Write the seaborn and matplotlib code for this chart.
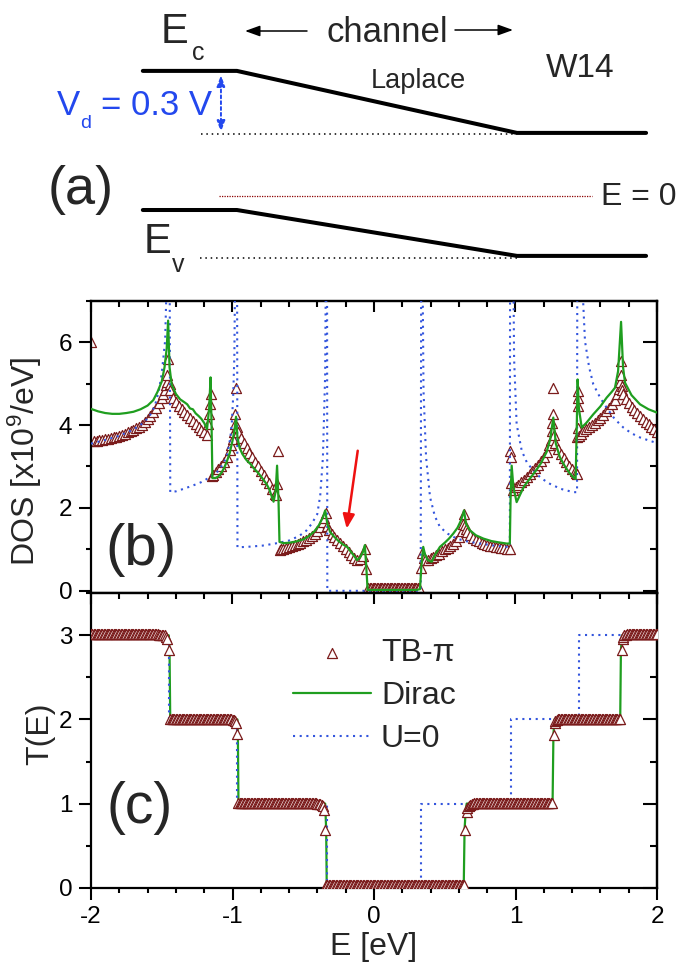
import numpy as np
import pandas as pd
import seaborn as sns
import matplotlib.pyplot as plt
from matplotlib.patches import FancyArrowPatch
from matplotlib.ticker import MultipleLocator

# ---------------- data ----------------

# (a) schematic band profile (x in channel lengths, energy in eV)
band_pos = [-0.336, 0.0, 1.0, 1.461]
ec_band = [0.605, 0.605, 0.305, 0.305]
ev_band = [-0.068, -0.068, -0.290, -0.290]

# (b) DOS, TB-pi markers
tb_dos_E = [
    -2.00, -1.98, -1.96, -1.94, -1.92, -1.90, -1.88, -1.86, -1.84, -1.82,
    -1.80, -1.78, -1.76, -1.74, -1.72, -1.70, -1.68, -1.66, -1.64, -1.62,
    -1.60, -1.58, -1.56, -1.54, -1.52, -1.50, -1.49, -1.48, -1.47, -1.465,
    -1.46, -1.455,
    -1.445, -1.44, -1.42, -1.40, -1.38, -1.36, -1.34, -1.32, -1.30, -1.28,
    -1.26, -1.24, -1.22, -1.20, -1.18, -1.17, -1.165, -1.16, -1.155,
    -1.145, -1.14, -1.12, -1.10, -1.08, -1.06, -1.04, -1.02, -1.01, -1.00,
    -0.99, -0.985, -0.98, -0.975, -0.97, -0.96, -0.94, -0.92, -0.90, -0.88,
    -0.86, -0.84, -0.82, -0.80, -0.78, -0.76, -0.74, -0.72, -0.70, -0.69,
    -0.685, -0.68,
    -0.665, -0.66, -0.64, -0.62, -0.60, -0.58, -0.56, -0.54, -0.52, -0.50,
    -0.48, -0.46, -0.44, -0.42, -0.40, -0.38, -0.36, -0.35, -0.34,
    -0.33, -0.32, -0.30, -0.28, -0.26, -0.24, -0.22, -0.20, -0.18, -0.16,
    -0.14, -0.12, -0.10, -0.08, -0.065, -0.06,
    -0.04, -0.03, -0.02, -0.01, 0.00, 0.01, 0.02, 0.03, 0.04, 0.05,
    0.06, 0.07, 0.08, 0.09, 0.10, 0.11, 0.12, 0.13, 0.14, 0.15,
    0.16, 0.17, 0.18, 0.19, 0.20, 0.21, 0.22, 0.23, 0.24, 0.25,
    0.26, 0.27, 0.28, 0.29, 0.30, 0.31, 0.32,
    0.335, 0.34, 0.35, 0.36, 0.38, 0.40, 0.42, 0.44, 0.46, 0.48,
    0.50, 0.52, 0.54, 0.56, 0.58, 0.60, 0.62, 0.63, 0.636,
    0.645, 0.65, 0.66, 0.68, 0.70, 0.72, 0.74, 0.76, 0.78, 0.80,
    0.82, 0.84, 0.86, 0.88, 0.90, 0.92, 0.94, 0.96, 0.962, 0.965, 0.97,
    0.98, 1.00, 1.02, 1.04, 1.06, 1.08, 1.10, 1.12, 1.14, 1.16,
    1.18, 1.20, 1.22, 1.24, 1.25, 1.255, 1.26, 1.263, 1.267,
    1.275, 1.28, 1.30, 1.32, 1.34, 1.36, 1.38, 1.40, 1.42, 1.43,
    1.435, 1.437, 1.439, 1.441, 1.443, 1.445,
    1.45, 1.46, 1.48, 1.50, 1.52, 1.54, 1.56, 1.58, 1.60, 1.62,
    1.64, 1.66, 1.68, 1.70, 1.72, 1.73, 1.74, 1.743, 1.746,
    1.75, 1.755, 1.76, 1.78, 1.80, 1.82, 1.84, 1.86, 1.88, 1.90,
    1.92, 1.94, 1.96, 1.98, 2.00,
]
tb_dos = [
    6.00, 3.61, 3.62, 3.63, 3.64, 3.66, 3.67, 3.69, 3.70, 3.72,
    3.74, 3.77, 3.79, 3.82, 3.85, 3.88, 3.92, 3.96, 4.01, 4.07,
    4.14, 4.22, 4.31, 4.41, 4.53, 4.66, 4.74, 4.84, 4.96, 5.05,
    5.20, 5.60,
    5.00, 4.85, 4.65, 4.55, 4.47, 4.39, 4.32, 4.25, 4.18, 4.10,
    4.03, 3.96, 3.89, 3.82, 3.76, 4.03, 4.27, 4.50, 4.74,
    2.78, 2.80, 2.86, 2.93, 3.01, 3.11, 3.24, 3.40, 3.52, 3.66,
    3.82, 4.03, 4.27, 4.90, 3.95, 3.82, 3.68, 3.56, 3.44, 3.33,
    3.22, 3.11, 3.00, 2.90, 2.80, 2.70, 2.59, 2.46, 2.33, 2.30,
    2.58, 3.38,
    0.98, 1.00, 1.02, 1.04, 1.06, 1.08, 1.10, 1.13, 1.16, 1.19,
    1.23, 1.27, 1.32, 1.38, 1.45, 1.54, 1.66, 1.76, 1.88,
    1.56, 1.46, 1.37, 1.29, 1.22, 1.15, 1.08, 1.01, 0.94, 0.87,
    0.80, 0.74, 0.76, 0.84, 1.00, 0.52,
    0.07, 0.07, 0.07, 0.07, 0.07, 0.07, 0.07, 0.07, 0.07, 0.07,
    0.07, 0.07, 0.07, 0.07, 0.07, 0.07, 0.07, 0.07, 0.07, 0.07,
    0.07, 0.07, 0.07, 0.07, 0.07, 0.07, 0.07, 0.07, 0.07, 0.07,
    0.07, 0.07, 0.07, 0.07, 0.07, 0.07, 0.07,
    0.55, 0.92, 0.80, 0.74, 0.74, 0.78, 0.82, 0.86, 0.90, 0.95,
    1.00, 1.04, 1.09, 1.14, 1.21, 1.30, 1.45, 1.62, 1.86,
    1.60, 1.50, 1.42, 1.34, 1.28, 1.23, 1.19, 1.16, 1.13, 1.11,
    1.09, 1.07, 1.06, 1.05, 1.04, 1.03, 1.02, 1.01, 3.38, 3.22, 2.60,
    2.44, 2.50, 2.56, 2.62, 2.68, 2.74, 2.81, 2.88, 2.96, 3.04,
    3.13, 3.24, 3.36, 3.52, 3.64, 3.86, 4.05, 4.27, 4.90,
    3.75, 3.56, 3.42, 3.30, 3.20, 3.11, 3.02, 2.95, 2.88, 2.84,
    2.82, 3.70, 3.94, 4.46, 4.66, 4.82,
    3.74, 3.78, 3.85, 3.90, 3.95, 4.00, 4.06, 4.12, 4.18, 4.25,
    4.33, 4.41, 4.50, 4.61, 4.76, 4.88, 5.05, 5.20, 5.55,
    4.95, 4.85, 4.76, 4.64, 4.53, 4.44, 4.36, 4.29, 4.22, 4.15,
    4.08, 4.02, 3.96, 3.90, 3.84,
]

# (b) DOS, Dirac model
dirac_dos_E = [
    -2.00, -1.95, -1.90, -1.85, -1.80, -1.75, -1.70, -1.65, -1.60, -1.56,
    -1.53, -1.50, -1.48, -1.465, -1.455, -1.445, -1.43, -1.40, -1.37, -1.34,
    -1.32, -1.30, -1.28, -1.26, -1.24, -1.22, -1.20, -1.18, -1.165, -1.155,
    -1.148, -1.142, -1.12, -1.10, -1.08, -1.06, -1.04, -1.02, -1.00, -0.985,
    -0.975, -0.965, -0.95, -0.93, -0.90, -0.87, -0.85, -0.82, -0.79, -0.76,
    -0.74, -0.72, -0.71, -0.695, -0.685, -0.675, -0.668, -0.64, -0.60, -0.55,
    -0.50, -0.46, -0.42, -0.39, -0.36, -0.345, -0.33, -0.31, -0.28, -0.25,
    -0.22, -0.19, -0.165, -0.14, -0.12, -0.10, -0.08, -0.065, -0.055, -0.045,
    0.00, 0.10, 0.20, 0.30, 0.325, 0.335, 0.348, 0.36, 0.38, 0.408,
    0.43, 0.466, 0.50, 0.53, 0.56, 0.59, 0.615, 0.636, 0.65, 0.678,
    0.72, 0.773, 0.83, 0.88, 0.938, 0.96, 0.965, 0.973, 0.985, 1.008,
    1.03, 1.06, 1.10, 1.14, 1.18, 1.22, 1.245, 1.267, 1.285, 1.314,
    1.35, 1.38, 1.408, 1.425, 1.432, 1.439, 1.448, 1.468, 1.50, 1.55,
    1.60, 1.644, 1.68, 1.703, 1.725, 1.746, 1.76, 1.774, 1.82, 1.88,
    1.94, 2.00,
]
dirac_dos = [
    4.39, 4.33, 4.29, 4.27, 4.27, 4.29, 4.32, 4.38, 4.47, 4.60,
    4.80, 5.05, 5.40, 5.85, 6.52, 5.40, 4.98, 4.75, 4.62, 4.55,
    4.50, 4.40, 4.38, 4.28, 4.22, 4.15, 4.05, 3.90, 4.40, 5.15,
    4.00, 2.72, 2.72, 2.76, 2.84, 2.96, 3.12, 3.32, 3.62, 3.90,
    4.20, 3.70, 3.45, 3.30, 3.15, 3.05, 2.96, 2.85, 2.72, 2.58,
    2.45, 2.25, 2.15, 2.40, 3.02, 2.20, 1.18, 1.15, 1.16, 1.19,
    1.24, 1.32, 1.44, 1.58, 1.78, 1.94, 1.62, 1.42, 1.30, 1.20,
    1.12, 1.06, 0.95, 0.84, 0.74, 0.80, 0.92, 1.10, 0.60, 0.02,
    0.02, 0.02, 0.02, 0.02, 0.04, 0.60, 1.06, 0.88, 0.74, 0.70,
    0.86, 1.06, 1.16, 1.26, 1.38, 1.52, 1.70, 1.94, 1.62, 1.46,
    1.34, 1.26, 1.20, 1.17, 1.14, 1.14, 2.20, 3.02, 2.50, 2.14,
    2.30, 2.52, 2.70, 2.88, 3.08, 3.35, 3.65, 4.18, 3.55, 3.22,
    3.00, 2.85, 2.74, 2.70, 3.80, 5.10, 4.40, 3.94, 4.05, 4.26,
    4.45, 4.66, 4.80, 4.90, 5.30, 6.49, 5.40, 5.02, 4.72, 4.50,
    4.38, 4.30,
]

# (b) DOS, U=0 (values of 9 run off the top of the axis)
u0_dos_E = [
    -2.00, -1.90, -1.80, -1.72, -1.65, -1.59, -1.55, -1.52, -1.50, -1.476,
    -1.465, -1.455, -1.445, -1.44, -1.40, -1.346, -1.28, -1.222, -1.16, -1.098,
    -1.06, -1.036, -1.015, -1.005, -0.995, -0.987, -0.978, -0.968, -0.965, -0.90,
    -0.789, -0.70, -0.603, -0.53, -0.479, -0.44, -0.401, -0.38, -0.361, -0.345,
    -0.338, -0.332, -0.330, 0.330, 0.334, 0.340, 0.35, 0.368, 0.396, 0.43,
    0.466, 0.52, 0.584, 0.66, 0.749, 0.85, 0.938, 0.960, 0.962, 0.982,
    0.990, 1.008, 1.044, 1.08, 1.126, 1.18, 1.244, 1.32, 1.408, 1.435,
    1.437, 1.465, 1.475, 1.491, 1.52, 1.55, 1.60, 1.644, 1.70, 1.762,
    1.82, 1.88, 1.94, 1.986, 2.00,
]
u0_dos = [
    3.55, 3.64, 3.74, 3.86, 4.00, 4.19, 4.45, 4.83, 5.25, 6.04,
    7.50, 9.00, 9.00, 2.38, 2.40, 2.46, 2.54, 2.62, 2.74, 2.90,
    3.10, 3.30, 3.70, 4.03, 4.70, 5.64, 9.00, 9.00, 1.05, 1.06,
    1.09, 1.14, 1.21, 1.32, 1.45, 1.62, 1.85, 2.30, 3.22, 5.23,
    9.00, 9.00, 0.00, 0.00, 9.00, 9.00, 4.82, 3.22, 2.26, 1.80,
    1.54, 1.38, 1.26, 1.19, 1.14, 1.09, 1.06, 1.06, 9.00, 9.00,
    5.60, 4.02, 3.38, 3.10, 2.90, 2.72, 2.58, 2.46, 2.38, 2.38,
    9.00, 9.00, 7.20, 6.03, 5.40, 4.98, 4.65, 4.42, 4.15, 3.94,
    3.80, 3.70, 3.63, 3.58, 3.57,
]

# (c) transmission, TB-pi markers
tb_T_E = [
    # T = 3 (left)
    -2.00, -1.99, -1.98, -1.97, -1.96, -1.95, -1.94, -1.93, -1.92, -1.91,
    -1.90, -1.89, -1.88, -1.87, -1.86, -1.85, -1.84, -1.83, -1.82, -1.81,
    -1.80, -1.79, -1.78, -1.77, -1.76, -1.75, -1.74, -1.73, -1.72, -1.71,
    -1.70, -1.69, -1.68, -1.67, -1.66, -1.65, -1.64, -1.63, -1.62, -1.61,
    -1.60, -1.59, -1.58, -1.57, -1.56, -1.55, -1.54, -1.53, -1.52, -1.51,
    -1.50, -1.49, -1.48, -1.47, -1.462, -1.447,
    # T = 2 (left)
    -1.44, -1.43, -1.42, -1.41, -1.40, -1.39, -1.38, -1.37, -1.36, -1.35,
    -1.34, -1.33, -1.32, -1.31, -1.30, -1.29, -1.28, -1.27, -1.26, -1.25,
    -1.24, -1.23, -1.22, -1.21, -1.20, -1.19, -1.18, -1.17, -1.16, -1.15,
    -1.14, -1.13, -1.12, -1.11, -1.10, -1.09, -1.08, -1.07, -1.06, -1.05,
    -1.04, -1.03, -1.02, -1.01, -1.00, -0.99, -0.98, -0.974, -0.965,
    # T = 1 (left)
    -0.96, -0.95, -0.94, -0.93, -0.92, -0.91, -0.90, -0.89, -0.88, -0.87,
    -0.86, -0.85, -0.84, -0.83, -0.82, -0.81, -0.80, -0.79, -0.78, -0.77,
    -0.76, -0.75, -0.74, -0.73, -0.72, -0.71, -0.70, -0.69, -0.68, -0.67,
    -0.66, -0.65, -0.64, -0.63, -0.62, -0.61, -0.60, -0.59, -0.58, -0.57,
    -0.56, -0.55, -0.54, -0.53, -0.52, -0.51, -0.50, -0.49, -0.48, -0.47,
    -0.46, -0.45, -0.44, -0.43, -0.42, -0.41, -0.40, -0.39, -0.38, -0.37,
    -0.36, -0.35, -0.349,
    # T = 0
    -0.34, -0.33, -0.32, -0.31, -0.30, -0.29, -0.28, -0.27, -0.26, -0.25,
    -0.24, -0.23, -0.22, -0.21, -0.20, -0.19, -0.18, -0.17, -0.16, -0.15,
    -0.14, -0.13, -0.12, -0.11, -0.10, -0.09, -0.08, -0.07, -0.06, -0.05,
    -0.04, -0.03, -0.02, -0.01, 0.00, 0.01, 0.02, 0.03, 0.04, 0.05,
    0.06, 0.07, 0.08, 0.09, 0.10, 0.11, 0.12, 0.13, 0.14, 0.15,
    0.16, 0.17, 0.18, 0.19, 0.20, 0.21, 0.22, 0.23, 0.24, 0.25,
    0.26, 0.27, 0.28, 0.29, 0.30, 0.31, 0.32, 0.33, 0.34, 0.35,
    0.36, 0.37, 0.38, 0.39, 0.40, 0.41, 0.42, 0.43, 0.44, 0.45,
    0.46, 0.47, 0.48, 0.49, 0.50, 0.51, 0.52, 0.53, 0.54, 0.55,
    0.56, 0.57, 0.58, 0.59, 0.60, 0.61, 0.62, 0.63, 0.637,
    0.646, 0.655,
    # T = 1 (right)
    0.66, 0.67, 0.68, 0.69, 0.70, 0.71, 0.72, 0.73, 0.74, 0.75,
    0.76, 0.77, 0.78, 0.79, 0.80, 0.81, 0.82, 0.83, 0.84, 0.85,
    0.86, 0.87, 0.88, 0.89, 0.90, 0.91, 0.92, 0.93, 0.94, 0.95,
    0.96, 0.97, 0.98, 0.99, 1.00, 1.01, 1.02, 1.03, 1.04, 1.05,
    1.06, 1.07, 1.08, 1.09, 1.10, 1.11, 1.12, 1.13, 1.14, 1.15,
    1.16, 1.17, 1.18, 1.19, 1.20, 1.21, 1.22, 1.23, 1.24, 1.25,
    1.26, 1.272, 1.277,
    # T = 2 (right)
    1.28, 1.29, 1.30, 1.31, 1.32, 1.33, 1.34, 1.35, 1.36, 1.37,
    1.38, 1.39, 1.40, 1.41, 1.42, 1.43, 1.44, 1.45, 1.46, 1.47,
    1.48, 1.49, 1.50, 1.51, 1.52, 1.53, 1.54, 1.55, 1.56, 1.57,
    1.58, 1.59, 1.60, 1.61, 1.62, 1.63, 1.64, 1.65, 1.66, 1.67,
    1.68, 1.69, 1.70, 1.71, 1.72, 1.73, 1.74, 1.752, 1.757,
    # T = 3 (right)
    1.76, 1.77, 1.78, 1.79, 1.80, 1.81, 1.82, 1.83, 1.84, 1.85,
    1.86, 1.87, 1.88, 1.89, 1.90, 1.91, 1.92, 1.93, 1.94, 1.95,
    1.96, 1.97, 1.98, 1.99, 2.00,
]
tb_T = [
    3.02, 3.02, 3.02, 3.02, 3.02, 3.02, 3.02, 3.02, 3.02, 3.02,
    3.02, 3.02, 3.02, 3.02, 3.02, 3.02, 3.02, 3.02, 3.02, 3.02,
    3.02, 3.02, 3.02, 3.02, 3.02, 3.02, 3.02, 3.02, 3.02, 3.02,
    3.02, 3.02, 3.02, 3.02, 3.02, 3.02, 3.02, 3.02, 3.02, 3.02,
    3.02, 3.02, 3.02, 3.02, 3.02, 3.02, 3.02, 3.02, 3.01, 3.01,
    3.01, 3.00, 3.00, 2.98, 2.96, 2.82,
    2.01, 2.01, 2.01, 2.01, 2.01, 2.01, 2.01, 2.01, 2.01, 2.01,
    2.01, 2.01, 2.01, 2.01, 2.01, 2.01, 2.01, 2.01, 2.01, 2.01,
    2.01, 2.01, 2.01, 2.01, 2.01, 2.01, 2.01, 2.01, 2.01, 2.01,
    2.01, 2.01, 2.01, 2.01, 2.01, 2.01, 2.01, 2.01, 2.01, 2.01,
    2.01, 2.01, 2.00, 2.00, 1.99, 1.99, 1.98, 1.96, 1.83,
    1.01, 1.01, 1.01, 1.01, 1.01, 1.01, 1.01, 1.01, 1.01, 1.01,
    1.01, 1.01, 1.01, 1.01, 1.01, 1.01, 1.01, 1.01, 1.01, 1.01,
    1.01, 1.01, 1.01, 1.01, 1.01, 1.01, 1.01, 1.01, 1.01, 1.01,
    1.01, 1.01, 1.01, 1.01, 1.01, 1.01, 1.01, 1.01, 1.01, 1.01,
    1.01, 1.01, 1.01, 1.01, 1.01, 1.01, 1.01, 1.01, 1.01, 1.01,
    1.01, 1.01, 1.01, 1.01, 1.01, 1.01, 1.00, 1.00, 0.99, 0.98,
    0.97, 0.92, 0.69,
    0.03, 0.03, 0.03, 0.03, 0.03, 0.03, 0.03, 0.03, 0.03, 0.03,
    0.03, 0.03, 0.03, 0.03, 0.03, 0.03, 0.03, 0.03, 0.03, 0.03,
    0.03, 0.03, 0.03, 0.03, 0.03, 0.03, 0.03, 0.03, 0.03, 0.03,
    0.03, 0.03, 0.03, 0.03, 0.03, 0.03, 0.03, 0.03, 0.03, 0.03,
    0.03, 0.03, 0.03, 0.03, 0.03, 0.03, 0.03, 0.03, 0.03, 0.03,
    0.03, 0.03, 0.03, 0.03, 0.03, 0.03, 0.03, 0.03, 0.03, 0.03,
    0.03, 0.03, 0.03, 0.03, 0.03, 0.03, 0.03, 0.03, 0.03, 0.03,
    0.03, 0.03, 0.03, 0.03, 0.03, 0.03, 0.03, 0.03, 0.03, 0.03,
    0.03, 0.03, 0.03, 0.03, 0.03, 0.03, 0.03, 0.03, 0.03, 0.03,
    0.03, 0.03, 0.03, 0.03, 0.03, 0.03, 0.03, 0.03, 0.03,
    0.69, 0.90,
    0.95, 0.97, 0.98, 0.99, 1.00, 1.01, 1.01, 1.01, 1.01, 1.01,
    1.01, 1.01, 1.01, 1.01, 1.01, 1.01, 1.01, 1.01, 1.01, 1.01,
    1.01, 1.01, 1.01, 1.01, 1.01, 1.01, 1.01, 1.01, 1.01, 1.01,
    1.01, 1.01, 1.01, 1.01, 1.01, 1.01, 1.01, 1.01, 1.01, 1.01,
    1.01, 1.01, 1.01, 1.01, 1.01, 1.01, 1.01, 1.01, 1.01, 1.01,
    1.01, 1.01, 1.01, 1.01, 1.01, 1.01, 1.01, 1.01, 1.01, 1.01,
    1.01, 1.82, 1.96,
    1.98, 1.99, 2.00, 2.01, 2.01, 2.01, 2.01, 2.01, 2.01, 2.01,
    2.01, 2.01, 2.01, 2.01, 2.01, 2.01, 2.01, 2.01, 2.01, 2.01,
    2.01, 2.01, 2.01, 2.01, 2.01, 2.01, 2.01, 2.01, 2.01, 2.01,
    2.01, 2.01, 2.01, 2.01, 2.01, 2.01, 2.01, 2.01, 2.01, 2.01,
    2.01, 2.01, 2.01, 2.01, 2.01, 2.01, 2.01, 2.82, 2.96,
    2.98, 3.00, 3.01, 3.02, 3.02, 3.02, 3.02, 3.02, 3.02, 3.02,
    3.02, 3.02, 3.02, 3.02, 3.02, 3.02, 3.02, 3.02, 3.02, 3.02,
    3.02, 3.02, 3.02, 3.02, 3.02,
]

# (c) transmission, Dirac and U=0
dirac_T_E = [-2.0, -1.45, -1.445, -1.44, -0.965, -0.962, -0.958, -0.345, -0.338, -0.334,
             0.634, 0.64, 0.648, 0.655, 1.262, 1.268, 1.275, 1.74, 1.745, 1.752, 2.0]
dirac_T = [3.0, 3.0, 2.82, 2.0, 2.0, 1.83, 1.0, 1.0, 0.69, 0.0,
           0.0, 0.69, 0.92, 1.0, 1.0, 1.82, 2.0, 2.0, 2.82, 3.0, 3.0]
u0_T_E = [-2.0, -1.448, -1.448, -0.965, -0.965, -0.333, -0.333,
          0.333, 0.333, 0.965, 0.965, 1.448, 1.448, 2.0]
u0_T = [3, 3, 2, 2, 1, 1, 0, 0, 1, 1, 2, 2, 3, 3]

assert len(tb_dos_E) == len(tb_dos)
assert len(dirac_dos_E) == len(dirac_dos)
assert len(u0_dos_E) == len(u0_dos)
assert len(tb_T_E) == len(tb_T), (len(tb_T_E), len(tb_T))

# ---------------- style ----------------
sns.set_theme(style="ticks")
plt.rcParams["font.family"] = ["Liberation Sans", "DejaVu Sans"]
plt.rcParams["mathtext.fontset"] = "custom"
plt.rcParams["mathtext.rm"] = "Liberation Sans"
plt.rcParams["mathtext.default"] = "regular"
plt.rcParams["axes.unicode_minus"] = False

TB = "#7b1c1c"
GREEN = "#1f9e1f"
BLUE = "#3355dd"
TXTBLUE = "#2348ee"

W, H = 685, 966
fig = plt.figure(figsize=(W / 100, H / 100), dpi=100)


def fpos(x, y):
    # pixel position measured from the top-left corner -> figure fraction
    return x / W, 1 - y / H


# ---------------- (a) schematic ----------------
ax_a = fig.add_axes([0, 1 - 290 / H, 1, 290 / H])
ax_a.set_xlim(-0.846, 1.6)
ax_a.set_ylim(-0.455, 0.948)
ax_a.axis("off")

sns.lineplot(x=band_pos, y=ec_band, ax=ax_a, color="black", linewidth=2.9,
             sort=False, estimator=None)
sns.lineplot(x=band_pos, y=ev_band, ax=ax_a, color="black", linewidth=2.9,
             sort=False, estimator=None)
ax_a.plot([-0.13, band_pos[2]], [ec_band[2] - 0.006] * 2, color="black",
          linewidth=1.1, linestyle=(0, (1, 2.5)))
ax_a.plot([-0.132, band_pos[2]], [ev_band[2] - 0.008] * 2, color="black",
          linewidth=1.1, linestyle=(0, (1, 2.5)))
ax_a.plot([-0.064, 1.268], [0, 0], color="#8b0000", linewidth=0.9,
          linestyle=(0, (1, 1)))
ax_a.annotate("", xy=(-0.057, ec_band[2] + 0.004), xytext=(-0.057, ec_band[0] - 0.02),
              arrowprops=dict(arrowstyle="<|-|>,head_length=0.55,head_width=0.2",
                              color=TXTBLUE, lw=1.4, linestyle=(0, (1.5, 1.5)),
                              mutation_scale=12, shrinkA=0, shrinkB=0))

fig.text(*fpos(161, 43), "E", fontsize=30, va="baseline", ha="left")
fig.text(*fpos(192, 60), "c", fontsize=18, va="baseline", ha="left")
fig.text(*fpos(144, 253), "E", fontsize=30, va="baseline", ha="left")
fig.text(*fpos(172, 272), "v", fontsize=18, va="baseline", ha="left")
fig.text(*fpos(327, 42), "channel", fontsize=25, va="baseline", ha="left")
fig.text(*fpos(546, 77), "W14", fontsize=24, va="baseline", ha="left")
fig.text(*fpos(371, 88), "Laplace", fontsize=19.5, va="baseline", ha="left")
fig.text(*fpos(57, 115), "V", fontsize=25, va="baseline", ha="left", color=TXTBLUE)
fig.text(*fpos(80, 128), "d", fontsize=14, va="baseline", ha="left", color=TXTBLUE)
fig.text(*fpos(101, 115), "= 0.3 V", fontsize=25, va="baseline", ha="left", color=TXTBLUE)
fig.text(*fpos(48, 204), "(a)", fontsize=39, va="baseline", ha="left")
fig.text(*fpos(601, 205), "E = 0", fontsize=23, va="baseline", ha="left")

arrow_kw = dict(arrowstyle="-|>,head_length=0.5,head_width=0.18", color="black",
                lw=1.1, mutation_scale=18, shrinkA=0, shrinkB=0)
fig.add_artist(FancyArrowPatch(fpos(307, 31), fpos(245, 31),
                               transform=fig.transFigure, **arrow_kw))
fig.add_artist(FancyArrowPatch(fpos(455, 30), fpos(513, 30),
                               transform=fig.transFigure, **arrow_kw))

# ---------------- (b) and (c) axes ----------------
ax_b = fig.add_axes([91 / W, 1 - 593.3 / H, 566 / W, 292.6 / H])
ax_c = fig.add_axes([91 / W, 1 - 887.7 / H, 566 / W, 294.4 / H])


def style_axes(ax, yticks, yminor):
    ax.set_xlim(-2, 2)
    ax.set_xticks([-2, -1, 0, 1, 2])
    ax.xaxis.set_minor_locator(MultipleLocator(0.2))
    ax.set_yticks(yticks)
    ax.yaxis.set_minor_locator(MultipleLocator(yminor))
    ax.tick_params(which="major", direction="out", length=8.5, width=1.5,
                   labelsize=17.5, pad=5, top=False, right=False, color="black",
                   labelcolor="black")
    ax.tick_params(which="minor", direction="out", length=3.8, width=1.5,
                   top=False, right=False, color="black")
    for s in ax.spines.values():
        s.set_linewidth(1.6)
        s.set_color("black")
    top = ax.secondary_xaxis("top")
    top.set_xticks([-2, -1, 0, 1, 2])
    top.xaxis.set_minor_locator(MultipleLocator(0.2))
    top.tick_params(which="major", direction="in", length=8, width=1.5,
                    labeltop=False, color="black")
    top.tick_params(which="minor", direction="in", length=4, width=1.5, color="black")
    right = ax.secondary_yaxis("right")
    right.set_yticks(yticks)
    right.yaxis.set_minor_locator(MultipleLocator(yminor))
    right.tick_params(which="major", direction="in", length=10, width=1.5,
                      labelright=False, color="black")
    right.tick_params(which="minor", direction="in", length=5, width=1.5, color="black")
    for sec in (top, right):
        for s in sec.spines.values():
            s.set_linewidth(1.6)
            s.set_color("black")


# (b) DOS
sns.scatterplot(x=tb_dos_E, y=tb_dos, ax=ax_b, marker="^", s=52, color="white",
                edgecolor=TB, linewidth=0.9, zorder=2)
sns.lineplot(x=u0_dos_E, y=u0_dos, ax=ax_b, color=BLUE, linewidth=1.5,
             linestyle=(0, (1, 2.2)), sort=False, estimator=None, zorder=3)
sns.lineplot(x=dirac_dos_E, y=dirac_dos, ax=ax_b, color=GREEN, linewidth=1.6,
             sort=False, estimator=None, zorder=4)
ax_b.set_ylim(-0.06, 7.0)
style_axes(ax_b, [0, 2, 4, 6], 1)
ax_b.tick_params(labelbottom=False)
ax_b.set_xlabel("")
ax_b.set_ylabel("DOS [x10$^9$/eV]", fontsize=23)
ax_b.yaxis.set_label_coords(-0.083, 0.449)
ax_b.text(0.025, 0.098, "(b)", transform=ax_b.transAxes, fontsize=42,
          va="baseline", ha="left")
ax_b.annotate("", xy=(-0.193, 1.50), xytext=(-0.115, 3.38),
              arrowprops=dict(arrowstyle="-|>,head_length=0.6,head_width=0.25",
                              color="#ee1111", lw=1.8, mutation_scale=14,
                              shrinkA=0, shrinkB=0), zorder=6)

# (c) T(E)
sns.lineplot(x=dirac_T_E, y=dirac_T, ax=ax_c, color=GREEN, linewidth=1.6,
             sort=False, estimator=None, zorder=2, label="Dirac")
sns.lineplot(x=u0_T_E, y=u0_T, ax=ax_c, color=BLUE, linewidth=1.5,
             linestyle=(0, (1, 2.2)), sort=False, estimator=None, zorder=2.5,
             label="U=0")
sns.scatterplot(x=tb_T_E, y=tb_T, ax=ax_c, marker="^", s=52, color="white",
                edgecolor=TB, linewidth=0.9, zorder=3, label="TB-\u03c0")
ax_c.set_ylim(0, 3.5)
style_axes(ax_c, [0, 1, 2, 3], 0.5)
ax_c.set_xlabel("E [eV]", fontsize=23)
ax_c.xaxis.set_label_coords(0.5, -0.15)
ax_c.xaxis.label.set_va("top")
ax_c.set_ylabel("T(E)", fontsize=23)
ax_c.yaxis.set_label_coords(-0.064, 0.522)
ax_c.text(0.028, 0.220, "(c)", transform=ax_c.transAxes, fontsize=41,
          va="baseline", ha="left")

handles, labels = ax_c.get_legend_handles_labels()
hd = dict(zip(labels, handles))
order = ["TB-\u03c0", "Dirac", "U=0"]
ax_c.legend([hd[k] for k in order], order, loc="upper left",
            bbox_to_anchor=(0.357, 0.847), frameon=False, fontsize=23,
            handlelength=2.45, handletextpad=0.3, labelspacing=0.4,
            borderpad=0, borderaxespad=0, scatterpoints=1)
if ax_b.get_legend() is not None:
    ax_b.get_legend().remove()

fig.savefig("out.png", dpi=100)
